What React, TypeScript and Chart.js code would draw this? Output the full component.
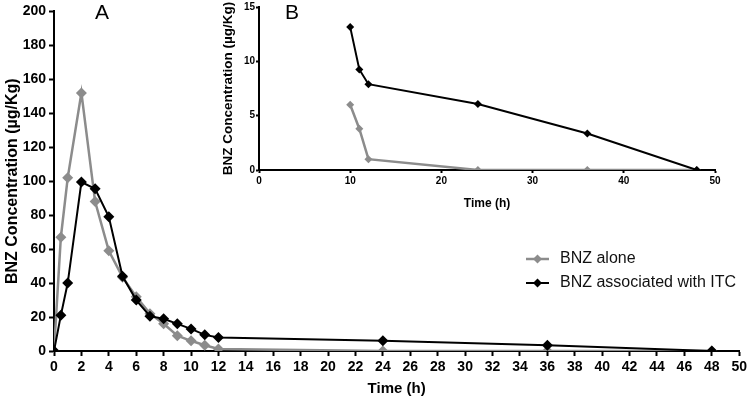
import React, { useEffect, useRef } from "react";
import { Chart, registerables } from "chart.js";

Chart.register(...registerables);

// ---- Data ----
const times = [0, 0.5, 1, 2, 3, 4, 5, 6, 7, 8, 9, 10, 11, 12, 24, 36, 48];
const bnzAlone = [0, 67, 102, 152, 88, 59, 43.5, 32, 22, 16, 9, 6, 3.4, 1.2, 0, 0, 0];
const bnzITC = [0, 21, 40, 99.5, 95.5, 79, 44, 30, 20.5, 19, 16, 13, 9.5, 8, 6, 3.4, 0];

const insetTimes = [10, 11, 12, 24, 36, 48];
const insetAlone = [6.0, 3.8, 1.0, 0, 0, 0];
const insetITC = [13.15, 9.25, 7.9, 6.08, 3.36, 0];

const seriesNames = ["BNZ alone", "BNZ associated with ITC"];
const GRAY = "#8c8c8c";
const BLACK = "#000000";
const FONT = "'Liberation Sans', Arial, Helvetica, sans-serif";

const toXY = (xs: number[], ys: number[]) => xs.map((x, i) => ({ x, y: ys[i] }));

function diamond(ctx: CanvasRenderingContext2D, x: number, y: number, r: number, color: string) {
  ctx.beginPath();
  ctx.moveTo(x, y - r);
  ctx.lineTo(x + r, y);
  ctx.lineTo(x, y + r);
  ctx.lineTo(x - r, y);
  ctx.closePath();
  ctx.fillStyle = color;
  ctx.fill();
}

const mainDecor = {
  id: "mainDecor",
  afterDraw(chart: any) {
    const ctx = chart.ctx as CanvasRenderingContext2D;
    ctx.save();
    ctx.fillStyle = "#000";
    ctx.font = `21px ${FONT}`;
    ctx.textAlign = "center";
    ctx.textBaseline = "middle";
    ctx.fillText("A", 102, 13);
    const rows = [
      { name: seriesNames[0], color: GRAY, y: 259, w: 2.5 },
      { name: seriesNames[1], color: BLACK, y: 283, w: 2 },
    ];
    rows.forEach((r) => {
      ctx.strokeStyle = r.color;
      ctx.lineWidth = r.w;
      ctx.beginPath();
      ctx.moveTo(526, r.y);
      ctx.lineTo(549, r.y);
      ctx.stroke();
      diamond(ctx, 537.5, r.y, 4.5, r.color);
      ctx.fillStyle = "#111";
      ctx.font = `16px ${FONT}`;
      ctx.textAlign = "left";
      ctx.textBaseline = "middle";
      ctx.fillText(r.name, 560, r.y);
    });
    ctx.restore();
  },
};

const insetDecor = {
  id: "insetDecor",
  afterDraw(chart: any) {
    const ctx = chart.ctx as CanvasRenderingContext2D;
    ctx.save();
    ctx.fillStyle = "#000";
    ctx.font = `21px ${FONT}`;
    ctx.textAlign = "center";
    ctx.textBaseline = "middle";
    ctx.fillText("B", 92, 13);
    ctx.restore();
  },
};

function axisCommon(fontSize: number, tickLen: number, borderW: number) {
  return {
    grid: {
      display: true,
      drawOnChartArea: false,
      drawTicks: true,
      tickLength: tickLen,
      tickWidth: borderW,
      tickColor: "#000",
    },
    border: { display: true, color: "#000", width: borderW },
    ticks: {
      color: "#000",
      font: { family: FONT, size: fontSize, weight: "bold" as const },
      maxRotation: 0,
      autoSkip: false,
    },
  };
}

export default function App() {
  const mainRef = useRef<HTMLCanvasElement>(null);
  const insetRef = useRef<HTMLCanvasElement>(null);

  useEffect(() => {
    const mc = axisCommon(14, 5, 2);
    const main = new Chart(mainRef.current!, {
      type: "line",
      data: {
        datasets: [
          {
            label: seriesNames[0],
            data: toXY(times, bnzAlone),
            borderColor: GRAY,
            backgroundColor: GRAY,
            borderWidth: 2.5,
            pointStyle: "rectRot",
            pointRadius: 5.5,
            pointBorderWidth: 0,
            order: 2,
          },
          {
            label: seriesNames[1],
            data: toXY(times, bnzITC),
            borderColor: BLACK,
            backgroundColor: BLACK,
            borderWidth: 2,
            pointStyle: "rectRot",
            pointRadius: 5.5,
            pointBorderWidth: 0,
            order: 1,
          },
        ],
      },
      options: {
        animation: false,
        responsive: false,
        layout: { padding: { top: 9, right: 8, left: 0, bottom: 0 } },
        plugins: { legend: { display: false }, tooltip: { enabled: false } },
        scales: {
          x: {
            type: "linear",
            min: 0,
            max: 50,
            ...mc,
            ticks: { ...mc.ticks, stepSize: 2, padding: 3 },
            title: {
              display: true,
              text: "Time (h)",
              color: "#000",
              font: { family: FONT, size: 15, weight: "bold" },
              padding: { top: 0, bottom: 2 },
            },
            afterFit: (s: any) => {
              s.height = 49;
            },
          },
          y: {
            type: "linear",
            min: 0,
            max: 200,
            ...mc,
            ticks: { ...mc.ticks, stepSize: 20, padding: 3 },
            title: {
              display: true,
              text: "BNZ Concentration (µg/Kg)",
              color: "#000",
              font: { family: FONT, size: 16, weight: "bold" },
              padding: { top: 3, bottom: 0 },
            },
            afterFit: (s: any) => {
              s.width = 54;
            },
          },
        },
      },
      plugins: [mainDecor],
    });

    const ic = axisCommon(10, 3, 2);
    const inset = new Chart(insetRef.current!, {
      type: "line",
      data: {
        datasets: [
          {
            label: seriesNames[0],
            data: toXY(insetTimes, insetAlone),
            borderColor: GRAY,
            backgroundColor: GRAY,
            borderWidth: 2.5,
            pointStyle: "rectRot",
            pointRadius: 4,
            pointBorderWidth: 0,
            order: 2,
          },
          {
            label: seriesNames[1],
            data: toXY(insetTimes, insetITC),
            borderColor: BLACK,
            backgroundColor: BLACK,
            borderWidth: 2,
            pointStyle: "rectRot",
            pointRadius: 4,
            pointBorderWidth: 0,
            order: 1,
          },
        ],
      },
      options: {
        animation: false,
        responsive: false,
        layout: { padding: { top: 5, right: 35, left: 0, bottom: 0 } },
        plugins: { legend: { display: false }, tooltip: { enabled: false } },
        scales: {
          x: {
            type: "linear",
            min: 0,
            max: 50,
            ...ic,
            ticks: { ...ic.ticks, stepSize: 10, padding: 2 },
            title: {
              display: true,
              text: "Time (h)",
              color: "#000",
              font: { family: FONT, size: 12, weight: "bold" },
              padding: { top: 0, bottom: 4 },
            },
            afterFit: (s: any) => {
              s.height = 45;
            },
          },
          y: {
            type: "linear",
            min: 0,
            max: 15,
            ...ic,
            ticks: { ...ic.ticks, stepSize: 5, padding: 1 },
            title: {
              display: true,
              text: "BNZ Concentration (µg/Kg)",
              color: "#000",
              font: { family: FONT, size: 13.5, weight: "bold" },
              padding: { top: 20, bottom: 0 },
            },
            afterFit: (s: any) => {
              s.width = 59;
            },
          },
        },
      },
      plugins: [insetDecor],
    });

    return () => {
      main.destroy();
      inset.destroy();
    };
  }, []);

  return (
    <div style={{ position: "absolute", left: 0, top: 0, width: 750, height: 400, background: "#fff" }}>
      <canvas ref={mainRef} width={750} height={400} style={{ position: "absolute", left: 0, top: 0 }} />
      <canvas ref={insetRef} width={550} height={215} style={{ position: "absolute", left: 200, top: 0 }} />
    </div>
  );
}
